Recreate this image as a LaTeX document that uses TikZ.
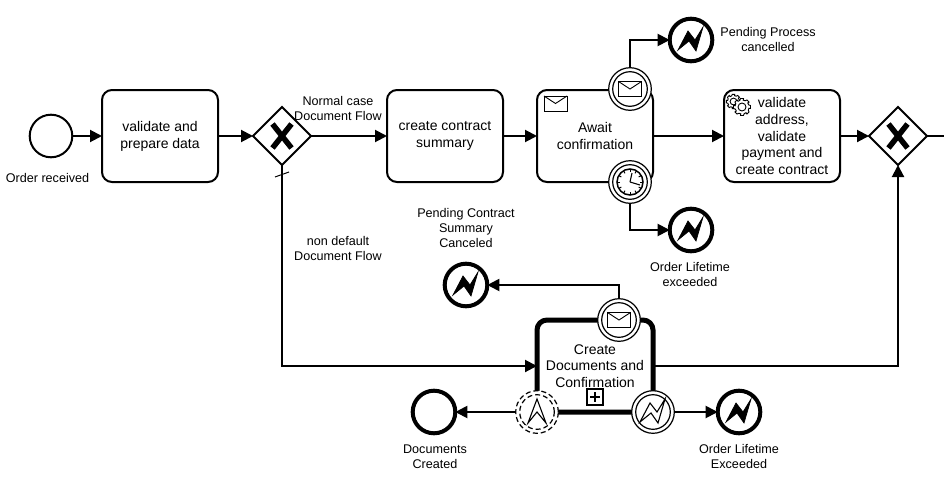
\documentclass[tikz,border=0pt]{standalone}
\usepackage{fontspec}
\setmainfont{Liberation Sans}
\usetikzlibrary{arrows.meta,shapes.geometric}
\tikzset{
  taskbox/.style={draw,line width=2,rounded corners=10,minimum width=116,minimum height=92,inner sep=0pt,outer sep=0pt,align=center,font=\fontsize{14}{16.8}\selectfont},
  subbox/.style={taskbox,line width=5},
  startev/.style={draw,circle,line width=2,minimum size=42.6,inner sep=0pt,outer sep=0pt},
  endev/.style={draw,circle,line width=4,minimum size=42.6,inner sep=0pt,outer sep=0pt},
  boundev/.style={draw,circle,fill=white,line width=1.2,minimum size=42.6,inner sep=0pt,outer sep=0pt},
  dashev/.style={dash pattern=on 5pt off 3pt},
  gatebox/.style={draw,diamond,aspect=1,line width=2,fill=white,minimum size=58,inner sep=0pt,outer sep=0pt},
  lbl/.style={inner sep=0pt,align=center,font=\fontsize{12.6}{15}\selectfont},
  flow/.style={line width=2,-{Triangle[length=12pt,width=12pt]}},
  envelope/.pic={
    \draw [line width=.9,fill=white] (-11.5,-7.5) rectangle (11.5,7.5);
    \draw [line width=.9] (-11.5,7.5) -- (0,0) -- (11.5,7.5);
  },
  boltfill/.pic={
    \filldraw [line width=.7] (-13,-10) -- (-3,9) -- (4,0) -- (12,13) -- (5,-11) -- (-2,-1) -- cycle;
  },
  boltline/.pic={
    \draw [line width=1.1,line join=miter] (-13,-10) -- (-3,9) -- (4,0) -- (12,13) -- (5,-11) -- (-2,-1) -- cycle;
  },
  gearicon/.pic={
    \draw [line width=.9,fill=white] (-10:7) \foreach \a in {0,45,...,315} { -- (\a-10:8.6) -- (\a+10:8.6) -- (\a+18:7) -- (\a+35:7)} -- cycle;
    \draw [line width=.9] (0,0) circle (4);
  },
}
\begin{document}
\begin{tikzpicture}[x=1pt,y=1pt]
\useasboundingbox (0,0) rectangle (944,-479);
\node [startev] (orderStart) at (51,-136) {};
\node [taskbox] (prepareTask) at (160,-136) {validate and\\prepare data};
\node [gatebox] (splitGate) at (282,-136) {};
\node [taskbox] (summaryTask) at (445,-136) {create contract\\summary};
\node [taskbox] (awaitTask) at (595,-136) {Await\\confirmation};
\node [taskbox] (validateTask) at (782,-136) {validate\\address,\\validate\\payment and\\create contract};
\node [gatebox] (joinGate) at (898,-136) {};
\node [subbox] (docsSub) at (595,-366) {Create\\Documents and\\Confirmation};
\node [endev] (pendingEnd) at (691,-40) {};
\node [endev] (lifetimeEnd) at (691,-230) {};
\node [endev] (canceledEnd) at (466,-285) {};
\node [endev] (createdEnd) at (434,-412) {};
\node [endev] (exceededEnd) at (739,-412) {};
\node [boundev] (msgBound) at (630,-89) {};
\node [boundev] (timerBound) at (630,-182) {};
\node [boundev] (cancelBound) at (619,-320) {};
\node [boundev,dashev] (escBound) at (537,-412) {};
\node [boundev] (errBound) at (653,-412) {};
\coordinate (rightEdge) at (944,-136);
\draw [flow] (orderStart) -- (prepareTask);
\draw [flow] (prepareTask) -- (splitGate);
\draw [flow] (splitGate) -- (summaryTask);
\draw [flow] (summaryTask) -- (awaitTask);
\draw [flow] (awaitTask) -- (validateTask);
\draw [flow] (validateTask) -- (joinGate);
\draw [line width=2] (joinGate) -- (rightEdge);
\draw [flow] (splitGate) |- (docsSub);
\draw [flow] (docsSub) -| (joinGate);
\draw [flow] (msgBound) |- (pendingEnd);
\draw [flow] (timerBound) |- (lifetimeEnd);
\draw [flow] (cancelBound) |- (canceledEnd);
\draw [flow] (escBound) -- (createdEnd);
\draw [flow] (errBound) -- (exceededEnd);
\draw [line width=1] (275,-177) -- (289,-172);
\draw [line width=1.2] (msgBound) circle (17.3);
\draw [line width=1.2] (timerBound) circle (17.3);
\draw [line width=1.2] (cancelBound) circle (17.3);
\draw [line width=1.2,dashev] (escBound) circle (17.3);
\draw [line width=1.2] (errBound) circle (17.3);
\draw [line width=5.5] (272.5,-124) -- (291.5,-148);
\draw [line width=5.5] (291.5,-124) -- (272.5,-148);
\draw [line width=5.5] (888.5,-124) -- (907.5,-148);
\draw [line width=5.5] (907.5,-124) -- (888.5,-148);
\pic at (555.5,-103.5) {envelope};
\pic at (630,-89) {envelope};
\pic at (619,-320) {envelope};
\pic at (691,-40) {boltfill};
\pic at (691,-230) {boltfill};
\pic at (466,-285) {boltfill};
\pic at (739,-412) {boltfill};
\pic at (653,-412) {boltline};
\draw [line width=1.1] (537,-399) -- (546,-423) -- (537,-412) -- (528,-423) -- cycle;
\pic [scale=.85] at (733.5,-101.5) {gearicon};
\pic at (742,-107) {gearicon};
\draw [line width=1.5,fill=white] (timerBound.center) circle (13);
\foreach \a in {0,30,...,330} {
  \draw [line width=1] (timerBound.center) ++(\a:10) -- ++(\a:3);
}
\draw [line width=1.1] (timerBound.center) -- ++(2,9);
\draw [line width=1.1] (timerBound.center) -- ++(10,-3);
\draw [line width=1.1] (587,-389) rectangle (603,-405);
\draw [line width=2] (595,-392) -- (595,-402);
\draw [line width=2] (590,-397) -- (600,-397);
\node [lbl] (orderLbl) at (47.5,-178) {Order received};
\node [lbl] (normalLbl) at (338,-108) {Normal case\\Document Flow};
\node [lbl] (nondefLbl) at (338,-248) {non default\\Document Flow};
\node [lbl] (pendingLbl) at (768,-39) {Pending Process\\cancelled};
\node [lbl] (lifetimeLbl) at (690,-274) {Order Lifetime\\exceeded};
\node [lbl] (canceledLbl) at (466,-228) {Pending Contract\\Summary\\Canceled};
\node [lbl] (createdLbl) at (435,-456.5) {Documents\\Created};
\node [lbl] (exceededLbl) at (739,-456) {Order Lifetime\\Exceeded};
\end{tikzpicture}
\end{document}
